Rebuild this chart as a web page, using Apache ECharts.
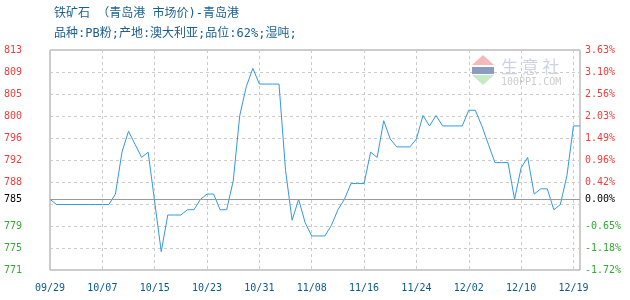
<!DOCTYPE html>
<html>
<head>
<meta charset="utf-8">
<script src="https://cdn.jsdelivr.net/npm/echarts@6/dist/echarts.min.js"></script>
<style>html,body{margin:0;padding:0;background:#fff;}#c{width:630px;height:300px;}</style>
</head>
<body>
<div id="c"></div>
<script>
var titleLine1 = '铁矿石 （青岛港 市场价)-青岛港';
var titleLine2 = '品种:PB粉;产地:澳大利亚;品位:62%;湿吨;';

var dates = [
 '09/29','09/30',
 '10/01','10/02','10/03','10/04','10/05','10/06','10/07','10/08','10/09','10/10',
 '10/11','10/12','10/13','10/14','10/15','10/16','10/17','10/18','10/19','10/20',
 '10/21','10/22','10/23','10/24','10/25','10/26','10/27','10/28','10/29','10/30','10/31',
 '11/01','11/02','11/03','11/04','11/05','11/06','11/07','11/08','11/09','11/10',
 '11/11','11/12','11/13','11/14','11/15','11/16','11/17','11/18','11/19','11/20',
 '11/21','11/22','11/23','11/24','11/25','11/26','11/27','11/28','11/29','11/30',
 '12/01','12/02','12/03','12/04','12/05','12/06','12/07','12/08','12/09','12/10',
 '12/11','12/12','12/13','12/15','12/16','12/17','12/18','12/19','12/20'
];

var prices = [
 785, 784, 784, 784, 784, 784, 784, 784, 784, 784,
 786, 794, 798, 795.5, 793, 794, 784.5, 775, 782, 782,
 782, 783, 783, 785, 786, 786, 783, 783, 788.5, 801,
 806.5, 810, 807, 807, 807, 807, 790.5, 781, 785, 780.5,
 778, 778, 778, 780, 783, 785, 788, 788, 788, 794,
 793, 800, 796.5, 795, 795, 795, 796.5, 801, 799, 801,
 799, 799, 799, 799, 802, 802, 799, 795.5, 792, 792,
 792, 785, 791, 793, 786, 787, 787, 783, 784, 789.5,
 799, 799
];

var baseValue = 785;
var baseLabelLeft = '785';
var baseLabelRight = '0.00%';
var yMin = 771.5;
var yMax = 813.5;

var leftTicks = ['771','775','779','','788','792','796','800','805','809','813'];
var rightTicks = ['-1.72%','-1.18%','-0.65%','','0.42%','0.96%','1.49%','2.03%','2.56%','3.10%','3.63%'];

var RED = '#f03c3c', GREEN = '#33aa33';
function tickColor(idx){ return idx < 3 ? GREEN : RED; }

var chart = echarts.init(document.getElementById('c'), null, {renderer:'canvas'});
var monoFont = 'DejaVu Sans Mono';
var titleFont = '"DejaVu Sans Mono", "Noto Sans CJK SC"';
chart.setOption({
  animation: false,
  backgroundColor: '#fff',
  title: {
    text: titleLine1,
    subtext: titleLine2,
    left: 49, top: 3,
    itemGap: 8,
    textStyle: {fontSize: 12, fontWeight: 'normal', color: '#1a5f8f', fontFamily: titleFont},
    subtextStyle: {fontSize: 12, color: '#1a5f8f', fontFamily: titleFont}
  },
  grid: {left: 50, right: 50, top: 50, bottom: 30, show: true, borderColor: '#999', borderWidth: 1, containLabel: false},
  xAxis: {
    type: 'category', data: dates, boundaryGap: false,
    axisLine: {show: false}, axisTick: {show: false},
    axisLabel: {interval: 7, color: '#0a5a8c', fontFamily: monoFont, fontSize: 10, margin: 13},
    splitLine: {show: true, interval: 7, lineStyle: {color: '#ccc', type: [3,3], width: 1}}
  },
  yAxis: [
    {type: 'value', min: yMin, max: yMax, show: false, splitLine: {show: false}},
    {type: 'category', data: leftTicks, boundaryGap: false, position: 'left',
     axisLine: {show: false}, axisTick: {show: false},
     axisLabel: {interval: 0, fontFamily: monoFont, fontSize: 10, margin: 28,
       color: function(v, i){ return tickColor(i); }},
     splitLine: {show: true, interval: 0, lineStyle: {color: '#ccc', type: [3,3], width: 1}}},
    {type: 'category', data: rightTicks, boundaryGap: false, position: 'right',
     axisLine: {show: false}, axisTick: {show: false},
     axisLabel: {interval: 0, fontFamily: monoFont, fontSize: 10, margin: 5,
       color: function(v, i){ return tickColor(i); }},
     splitLine: {show: false}}
  ],
  graphic: [
    {type: 'polygon', silent: true, z: 1, shape: {points: [[483,55],[472,65],[494,65]]}, style: {fill: '#f5b9b9'}},
    {type: 'rect', silent: true, z: 1, shape: {x: 472, y: 67, width: 22, height: 7}, style: {fill: '#8a9cc0'}},
    {type: 'polygon', silent: true, z: 1, shape: {points: [[472,75],[494,75],[483,85]]}, style: {fill: '#c6eac6'}},
    {type: 'text', silent: true, z: 1, left: 501, top: 58, style: {text: '生 意 社', fill: '#cdd3e6', font: '17px "Noto Sans CJK SC"'}},
    {type: 'text', silent: true, z: 1, left: 501, top: 77, style: {text: '100PPI.COM', fill: '#cccccc', font: '10px "DejaVu Sans Mono"'}}
  ],
  series: [{
    type: 'line', data: prices, yAxisIndex: 0, xAxisIndex: 0,
    symbol: 'none', clip: false, z: 3,
    lineStyle: {color: '#3399dd', width: 1},
    markLine: {
      silent: true, symbol: 'none', animation: false,
      lineStyle: {color: '#999', type: 'solid', width: 1},
      data: [
        {yAxis: baseValue, label: {formatter: baseLabelLeft, position: 'start', distance: 28, color: '#000', fontFamily: monoFont, fontSize: 10}},
        {yAxis: baseValue, label: {formatter: baseLabelRight, position: 'end', distance: 5, color: '#000', fontFamily: monoFont, fontSize: 10}}
      ]
    }
  }]
});
</script>
</body>
</html>
